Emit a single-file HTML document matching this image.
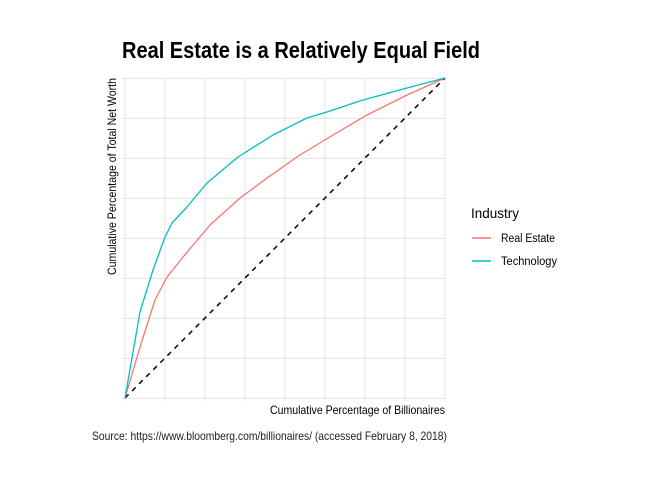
<!DOCTYPE html>
<html><head><meta charset="utf-8"><style>html,body{margin:0;padding:0;background:#fff}svg{display:block}</style></head>
<body>
<svg width="672" height="480" viewBox="0 0 672 480" xmlns="http://www.w3.org/2000/svg" font-family="'Liberation Sans Narrow','Liberation Sans',sans-serif">
<rect width="672" height="480" fill="#fff"/>
<g stroke="#dedede" stroke-width="0.8">
<line x1="125" y1="78" x2="125" y2="401"/><line x1="165" y1="78" x2="165" y2="401"/><line x1="205" y1="78" x2="205" y2="401"/><line x1="245" y1="78" x2="245" y2="401"/><line x1="285" y1="78" x2="285" y2="401"/><line x1="325" y1="78" x2="325" y2="401"/><line x1="365" y1="78" x2="365" y2="401"/><line x1="405" y1="78" x2="405" y2="401"/><line x1="445" y1="78" x2="445" y2="401"/>
<line x1="122" y1="78.3" x2="445" y2="78.3"/><line x1="122" y1="118.3" x2="445" y2="118.3"/><line x1="122" y1="158.3" x2="445" y2="158.3"/><line x1="122" y1="198.3" x2="445" y2="198.3"/><line x1="122" y1="238.3" x2="445" y2="238.3"/><line x1="122" y1="278.3" x2="445" y2="278.3"/><line x1="122" y1="318.3" x2="445" y2="318.3"/><line x1="122" y1="358.3" x2="445" y2="358.3"/><line x1="122" y1="398.3" x2="445" y2="398.3"/>
</g>
<line x1="125" y1="398" x2="445" y2="78" stroke="#000" stroke-width="1.5" stroke-dasharray="5,5"/>
<polyline fill="none" stroke="#F8766D" stroke-width="1.3" stroke-linejoin="round" points="125,398 140,347 155,300 167,277 183,257 210,225 240,198 267,178 300,155 333,135 367,115 407,95 445,78"/>
<polyline fill="none" stroke="#00BFC4" stroke-width="1.3" stroke-linejoin="round" points="125,398 140,312 153,270 165,237 172,223 187,207 207,183 238,157 273,135 307,118 327,112 363,100 407,88 445,78"/>
<text x="122" y="58" font-size="23" font-weight="bold" textLength="358" lengthAdjust="spacingAndGlyphs">Real Estate is a Relatively Equal Field</text>
<text x="445" y="414" font-size="12" text-anchor="end" textLength="175" lengthAdjust="spacingAndGlyphs">Cumulative Percentage of Billionaires</text>
<text transform="translate(116,78) rotate(-90)" font-size="12" text-anchor="end" textLength="197" lengthAdjust="spacingAndGlyphs">Cumulative Percentage of Total Net Worth</text>
<text x="92" y="440" font-size="12" fill="#222" textLength="355" lengthAdjust="spacingAndGlyphs">Source: https://www.bloomberg.com/billionaires/ (accessed February 8, 2018)</text>
<text x="471" y="218" font-size="14" textLength="48" lengthAdjust="spacingAndGlyphs">Industry</text>
<line x1="472" y1="238" x2="491" y2="238" stroke="#F8766D" stroke-width="1.4"/>
<line x1="472" y1="261" x2="491" y2="261" stroke="#00BFC4" stroke-width="1.4"/>
<text x="501" y="242" font-size="11.5" textLength="54" lengthAdjust="spacingAndGlyphs">Real Estate</text>
<text x="501" y="265" font-size="11.5" textLength="56" lengthAdjust="spacingAndGlyphs">Technology</text>
</svg>
</body></html>
